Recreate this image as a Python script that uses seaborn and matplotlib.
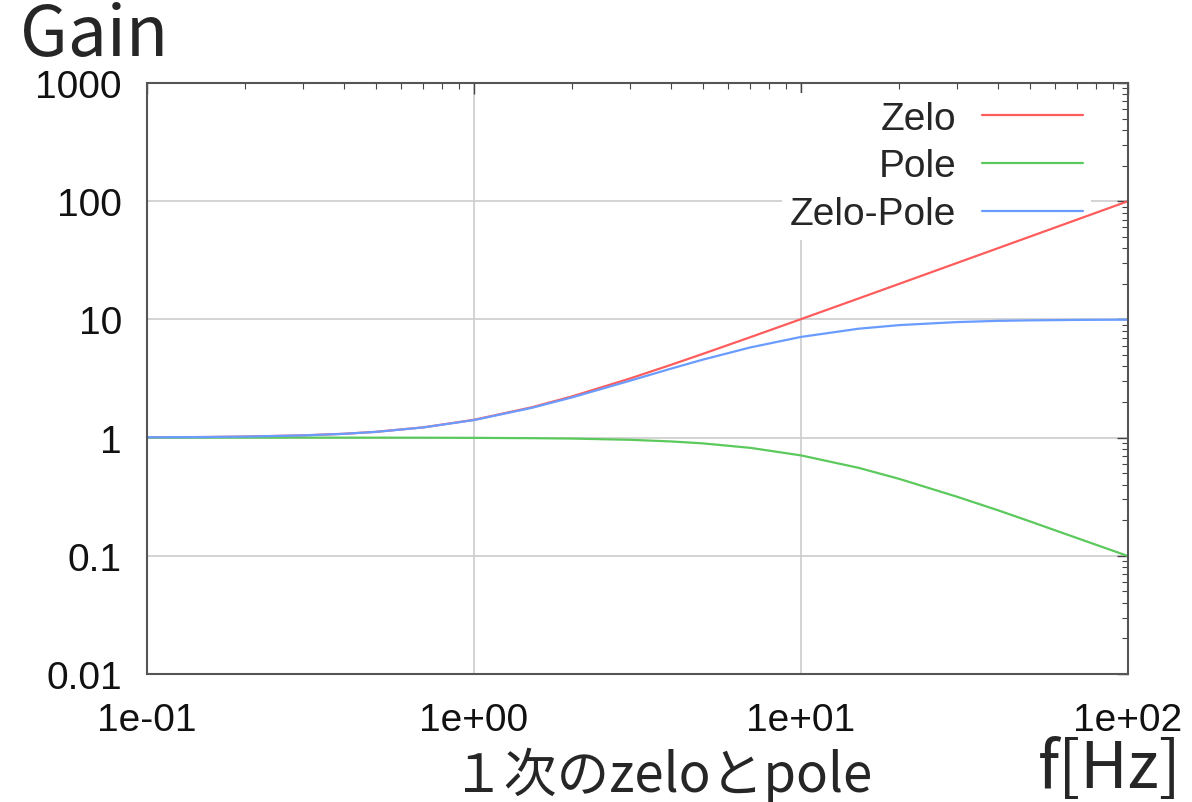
import matplotlib
matplotlib.use("Agg")
import matplotlib.pyplot as plt
import matplotlib.ticker as mticker
import numpy as np
import pandas as pd
import seaborn as sns

# frequency points [Hz] and gains
freq = [0.1, 0.15, 0.2, 0.3, 0.4, 0.5, 0.7, 1, 1.5, 2, 3, 4, 5, 7,
        10, 15, 20, 30, 40, 50, 70, 100]
zelo = [1.005, 1.011, 1.020, 1.044, 1.077, 1.118, 1.221, 1.414, 1.803, 2.236, 3.162,
        4.123, 5.099, 7.071, 10.05, 15.03, 20.02, 30.02, 40.01, 50.01, 70.01, 100.0]
pole = [1.000, 1.000, 1.000, 1.000, 0.999, 0.999, 0.998, 0.995, 0.989, 0.981, 0.958,
        0.928, 0.894, 0.819, 0.707, 0.555, 0.447, 0.316, 0.243, 0.196, 0.141, 0.0995]
zelo_pole = [1.005, 1.011, 1.020, 1.044, 1.076, 1.117, 1.219, 1.407, 1.783, 2.193, 3.029,
             3.828, 4.560, 5.793, 7.107, 8.34, 8.95, 9.49, 9.72, 9.81, 9.90, 9.95]

series_names = ["Zelo", "Pole", "Zelo-Pole"]
x_ticks = [0.1, 1, 10, 100]
y_ticks = [0.01, 0.1, 1, 10, 100, 1000]

df = pd.DataFrame({
    "f": freq * 3,
    "gain": zelo + pole + zelo_pole,
    "series": [series_names[0]] * len(freq) + [series_names[1]] * len(freq)
              + [series_names[2]] * len(freq),
})

sns.set_style("white")
plt.rcParams["font.family"] = ["Liberation Sans", "DejaVu Sans"]

fig = plt.figure(figsize=(11.92, 8.03), dpi=100)
ax = fig.add_axes([0.1233, 0.1594, 0.823, 0.736])

pal = {"Zelo": "#ff5c5c", "Pole": "#5cc95c", "Zelo-Pole": "#6a9cff"}
sns.lineplot(data=df, x="f", y="gain", hue="series", palette=pal, ax=ax,
             linewidth=1.6, sort=True, estimator=None)

ax.set_xscale("log")
ax.set_yscale("log")
ax.set_xlim(0.1, 100)
ax.set_ylim(0.01, 1000)
ax.set_xticks(x_ticks)
ax.set_yticks(y_ticks)
ax.xaxis.set_major_formatter(mticker.FuncFormatter(lambda v, p: "%.0e" % v))
ax.yaxis.set_major_formatter(mticker.FuncFormatter(lambda v, p: "%g" % v))
ax.xaxis.set_minor_locator(mticker.LogLocator(base=10, subs=np.arange(2, 10)))
ax.yaxis.set_minor_locator(mticker.LogLocator(base=10, subs=np.arange(2, 10)))
ax.xaxis.set_minor_formatter(mticker.NullFormatter())
ax.yaxis.set_minor_formatter(mticker.NullFormatter())

ax.tick_params(which="both", direction="in", top=True, right=True, colors="#444444",
               labelcolor="#111111")
ax.tick_params(which="major", length=8, width=1)
ax.tick_params(which="minor", length=4, width=0.8)
ax.tick_params(axis="x", which="major", labelsize=28, pad=20)
ax.tick_params(axis="y", which="major", labelsize=28, pad=18)

ax.set_axisbelow(True)
ax.grid(True, which="major", color="#cccccc", linewidth=1.2)
for s in ax.spines.values():
    s.set_color("#555555")
    s.set_linewidth(1.5)

ax.set_xlabel("")
ax.set_ylabel("")

leg = ax.legend(loc="upper right", bbox_to_anchor=(0.962, 0.983), borderaxespad=0,
                markerfirst=False, fontsize=28, frameon=True, framealpha=1,
                facecolor="white", edgecolor="none", handlelength=2.6,
                handletextpad=0.65, labelspacing=0.3, borderpad=0.2)
leg.set_zorder(1)
for line in leg.get_lines():
    line.set_linewidth(1.6)

jp = ["Noto Sans CJK JP", "DejaVu Sans"]
fig.text(0.017, 0.93, "Gain", fontsize=50, family=jp, va="baseline", ha="left")
fig.text(0.556, 0.034, "１次のzeloとpole", fontsize=38, family=jp, va="center", ha="center")
fig.text(0.931, 0.041, "f[Hz]", fontsize=47, family=jp, va="center", ha="center")

fig.savefig("out.png", dpi=100)
